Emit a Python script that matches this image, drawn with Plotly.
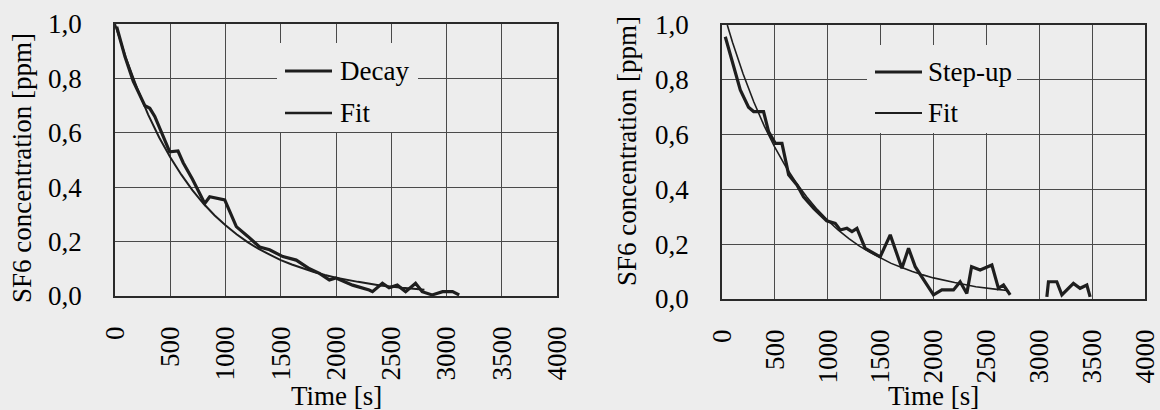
import plotly.graph_objects as go

# ---- measured series -------------------------------------------------------
decay_t = [15, 90, 165, 270, 315, 360, 495, 570, 617, 700, 812, 857, 993, 1098,
           1200, 1309, 1399, 1519, 1640, 1760, 1850, 1940, 2000, 2150, 2300,
           2330, 2420, 2480, 2555, 2630, 2720, 2780, 2870, 2965, 3055, 3115]
decay_c = [0.99, 0.88, 0.79, 0.70, 0.69, 0.66, 0.53, 0.533, 0.49, 0.43, 0.34,
           0.365, 0.353, 0.255, 0.22, 0.18, 0.17, 0.145, 0.132, 0.10, 0.083,
           0.059, 0.066, 0.04, 0.022, 0.016, 0.047, 0.03, 0.04, 0.016, 0.047,
           0.016, 0.004, 0.016, 0.016, 0.004]

decay_fit_t = [0, 100, 200, 300, 400, 500, 600, 700, 800, 900, 1000, 1100,
               1200, 1300, 1400, 1500, 1600, 1700, 1800, 1900, 2000, 2200,
               2400, 2600, 2800]
decay_fit_c = [1.00, 0.874, 0.764, 0.667, 0.583, 0.510, 0.446, 0.389, 0.340,
               0.297, 0.260, 0.227, 0.198, 0.173, 0.152, 0.132, 0.116, 0.101,
               0.088, 0.077, 0.067, 0.052, 0.039, 0.030, 0.023]

stepup_t = [31, 100, 173, 251, 299, 393, 441, 504, 567, 614, 630, 709, 771,
            870, 990, 1071, 1118, 1181, 1229, 1276, 1354, 1496, 1591, 1701,
            1764, 1827, 1910, 2000, 2079, 2189, 2252, 2315, 2360, 2441, 2552,
            2614, 2662, 2725, None, 3072, 3087, 3166, 3214, 3323, 3386, 3450,
            3481]
stepup_c = [0.957, 0.86, 0.763, 0.70, 0.684, 0.684, 0.61, 0.568, 0.568, 0.483,
            0.453, 0.416, 0.373, 0.33, 0.285, 0.276, 0.252, 0.258, 0.246,
            0.258, 0.185, 0.154, 0.234, 0.112, 0.185, 0.118, 0.07, 0.015,
            0.033, 0.033, 0.063, 0.02, 0.118, 0.106, 0.124, 0.039, 0.051,
            0.015, None, 0.008, 0.063, 0.063, 0.015, 0.057, 0.039, 0.051,
            0.008]

stepup_fit_t = [50, 100, 200, 300, 400, 500, 600, 700, 800, 900, 1000, 1100,
                1200, 1300, 1400, 1500, 1600, 1700, 1800, 1900, 2000, 2200,
                2400, 2600, 2700]
stepup_fit_c = [1.00, 0.936, 0.821, 0.720, 0.631, 0.553, 0.485, 0.425, 0.373,
                0.327, 0.287, 0.251, 0.220, 0.193, 0.170, 0.149, 0.130, 0.115,
                0.100, 0.088, 0.077, 0.060, 0.045, 0.035, 0.031]

x_ticks = [0, 500, 1000, 1500, 2000, 2500, 3000, 3500, 4000]
x_tick_text = ["0", "500", "1000", "1500", "2000", "2500", "3000", "3500", "4000"]
y_ticks = [0.0, 0.2, 0.4, 0.6, 0.8, 1.0]
y_tick_text = ["0,0", "0,2", "0,4", "0,6", "0,8", "1,0"]

# ---- page geometry (pixels) ------------------------------------------------
W, H = 1160, 410
BG = "#ededed"
INK = "#1e1e1e"
FONT = "'Liberation Serif', 'Times New Roman', 'DejaVu Serif', serif"
FS = 27


def fx(px):
    return px / W


def fy(py):
    return 1 - py / H


fig = go.Figure()

fig.add_trace(go.Scatter(x=decay_fit_t, y=decay_fit_c, mode="lines",
                         line=dict(color=INK, width=2), name="Fit",
                         xaxis="x", yaxis="y", showlegend=False))
fig.add_trace(go.Scatter(x=decay_t, y=decay_c, mode="lines",
                         line=dict(color=INK, width=3.2), name="Decay",
                         xaxis="x", yaxis="y", showlegend=False))
fig.add_trace(go.Scatter(x=stepup_fit_t, y=stepup_fit_c, mode="lines",
                         line=dict(color=INK, width=1.6), name="Fit",
                         xaxis="x2", yaxis="y2", showlegend=False))
fig.add_trace(go.Scatter(x=stepup_t, y=stepup_c, mode="lines",
                         line=dict(color=INK, width=3.2), name="Step-up",
                         xaxis="x2", yaxis="y2", showlegend=False))

# invisible outside ticks act as spacers between the axes and their labels
xaxis_common = dict(range=[0, 4000], tickvals=x_ticks, ticktext=x_tick_text,
                    tickangle=-90, showgrid=True, gridcolor="#4a4a4a",
                    gridwidth=1, showline=True, linecolor="#2a2a2a",
                    linewidth=1.6, mirror=True, zeroline=False,
                    ticks="outside", ticklen=18, tickcolor="rgba(0,0,0,0)",
                    automargin=False,
                    tickfont=dict(family=FONT, size=FS, color="black"))
yaxis_common = dict(range=[0, 1], tickvals=y_ticks, ticktext=y_tick_text,
                    showgrid=True, gridcolor="#4a4a4a", gridwidth=1,
                    showline=True, linecolor="#2a2a2a", linewidth=1.6,
                    mirror=True, zeroline=False,
                    ticks="outside", ticklen=26, tickcolor="rgba(0,0,0,0)",
                    automargin=False,
                    tickfont=dict(family=FONT, size=FS, color="black"))

fig.update_layout(
    width=W, height=H,
    margin=dict(l=0, r=0, t=0, b=0),
    paper_bgcolor=BG, plot_bgcolor=BG,
    font=dict(family=FONT, size=FS, color="black"),
    xaxis=dict(domain=[fx(115), fx(557)], anchor="y", **xaxis_common),
    yaxis=dict(domain=[fy(296), fy(24)], anchor="x", **yaxis_common),
    xaxis2=dict(domain=[fx(722), fx(1145)], anchor="y2", **xaxis_common),
    yaxis2=dict(domain=[fy(299), fy(25)], anchor="x2", **yaxis_common),
    showlegend=False,
)

# axis titles
titles = [
    ("SF6 concentration [ppm]", 22, 168, -90),
    ("SF6 concentration [ppm]", 627, 151, -90),
    ("Time [s]", 336, 396, 0),
    ("Time [s]", 933, 396, 0),
]
for text, x, y, ang in titles:
    fig.add_annotation(text=text, x=fx(x), y=fy(y), xref="paper", yref="paper",
                       showarrow=False, textangle=ang, xanchor="center",
                       yanchor="middle", font=dict(family=FONT, size=FS))

# legend panels: background box, line samples, labels
legends = [
    (277, 43, 418, 132, [("Decay", 3.2, 71), ("Fit", 2.6, 113)], 285, 332, 338),
    (867, 45, 1017, 133, [("Step-up", 3.2, 72), ("Fit", 1.8, 113)], 875, 922, 926),
]
for x0, y0, x1, y1, entries, sx0, sx1, tx in legends:
    fig.add_shape(type="rect", xref="paper", yref="paper",
                  x0=fx(x0), x1=fx(x1), y0=fy(y1), y1=fy(y0),
                  fillcolor=BG, line=dict(width=0), layer="above")
    for label, lw, ly in entries:
        fig.add_shape(type="line", xref="paper", yref="paper",
                      x0=fx(sx0), x1=fx(sx1), y0=fy(ly), y1=fy(ly),
                      line=dict(color=INK, width=lw), layer="above")
        fig.add_annotation(text=label, x=fx(tx), y=fy(ly), xref="paper",
                           yref="paper", showarrow=False, xanchor="left",
                           yanchor="middle", font=dict(family=FONT, size=FS))

fig.write_html("out.html")
